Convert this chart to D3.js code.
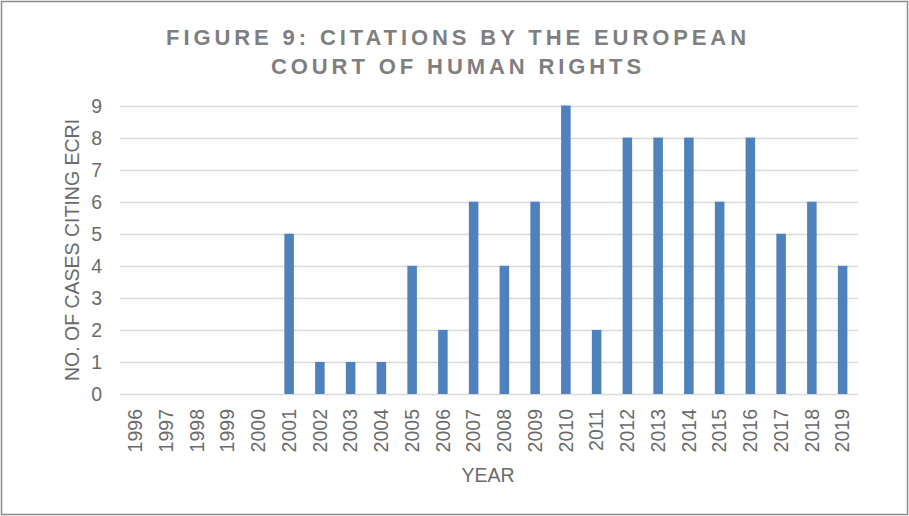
<!DOCTYPE html>
<html>
<head>
<meta charset="utf-8">
<script src="https://cdn.jsdelivr.net/npm/d3@7"></script>
<style>
  body { margin: 0; background: #fff; }
  svg { display: block; font-family: "Liberation Sans", Arial, sans-serif; }
</style>
</head>
<body>
<svg id="chart"></svg>
<script>
const years = ['1996', '1997', '1998', '1999', '2000', '2001', '2002', '2003', '2004', '2005', '2006', '2007',
    '2008', '2009', '2010', '2011', '2012', '2013', '2014', '2015', '2016', '2017', '2018', '2019'];
const citations = [0, 0, 0, 0, 0, 5, 1, 1, 1, 4, 2, 6, 4, 6, 9, 2, 8, 8, 8, 6, 8, 5, 6, 4];
const yTicks = [0, 1, 2, 3, 4, 5, 6, 7, 8, 9];
const titleLines = ['FIGURE 9: CITATIONS BY THE EUROPEAN', 'COURT OF HUMAN RIGHTS'];

const width = 909, height = 516;
const margin = {top: 105.5, right: 51, bottom: 122, left: 120};
const textColor = '#6b6b6b';

let svg = d3.select('#chart').attr('width', width).attr('height', height);

// outer frame
svg.append('rect')
    .attr('x', 1.5).attr('y', 1.5)
    .attr('width', width - 3).attr('height', height - 3)
    .attr('fill', '#fff')
    .attr('stroke', '#8c8c8c')
    .attr('stroke-width', 1.5);

let x = d3.scaleBand()
    .domain(years)
    .range([margin.left, width - margin.right])
    .paddingInner(0.69)
    .paddingOuter(0.345);

let y = d3.scaleLinear()
    .domain([0, 9])
    .range([height - margin.bottom, margin.top]);

// gridlines
svg.append('g')
    .selectAll('line')
    .data(yTicks)
    .enter()
    .append('line')
    .attr('x1', margin.left)
    .attr('x2', width - margin.right)
    .attr('y1', d => Math.round(y(d)) + 0.5)
    .attr('y2', d => Math.round(y(d)) + 0.5)
    .attr('stroke', '#d9d9d9')
    .attr('stroke-width', 1.3);

// bars
svg.append('g')
    .selectAll('rect')
    .data(citations)
    .enter()
    .append('rect')
    .attr('x', (d, i) => x(years[i]))
    .attr('width', x.bandwidth())
    .attr('y', d => y(d))
    .attr('height', d => y(0) - y(d))
    .attr('fill', '#4f81bd');

// y axis labels
let yAxis = svg.append('g')
    .attr('transform', 'translate(' + margin.left + ',0)')
    .call(d3.axisLeft(y).tickValues(yTicks).tickSize(0).tickPadding(18));
yAxis.select('.domain').remove();
yAxis.selectAll('text')
    .attr('fill', textColor)
    .style('font-size', '19.5px')
    .attr('dy', '0.35em');

// x axis labels
let xAxis = svg.append('g')
    .attr('transform', 'translate(0,' + (height - margin.bottom) + ')')
    .call(d3.axisBottom(x).tickSize(0).tickPadding(0));
xAxis.select('.domain').remove();
xAxis.selectAll('text')
    .attr('fill', textColor)
    .style('font-size', '19.5px')
    .attr('text-anchor', 'end')
    .attr('transform', 'translate(0,15) rotate(-90)')
    .attr('x', 0).attr('y', 0)
    .attr('dy', '0.35em');

// axis titles
svg.append('text')
    .attr('transform', 'translate(79,' + 250 + ') rotate(-90)')
    .attr('text-anchor', 'middle')
    .attr('fill', textColor)
    .style('font-size', '19.5px')
    .text('NO. OF CASES CITING ECRI');

svg.append('text')
    .attr('x', 488)
    .attr('y', 482)
    .attr('text-anchor', 'middle')
    .attr('fill', textColor)
    .style('font-size', '19.5px')
    .text('YEAR');

// title
svg.append('g')
    .selectAll('text')
    .data(titleLines)
    .enter()
    .append('text')
    .attr('x', 458)
    .attr('y', (d, i) => 44.5 + i * 29.5)
    .attr('text-anchor', 'middle')
    .attr('fill', '#7f7f7f')
    .style('font-size', '22px')
    .style('font-weight', 'bold')
    .style('letter-spacing', '3.9px')
    .text(d => d);
</script>
</body>
</html>
